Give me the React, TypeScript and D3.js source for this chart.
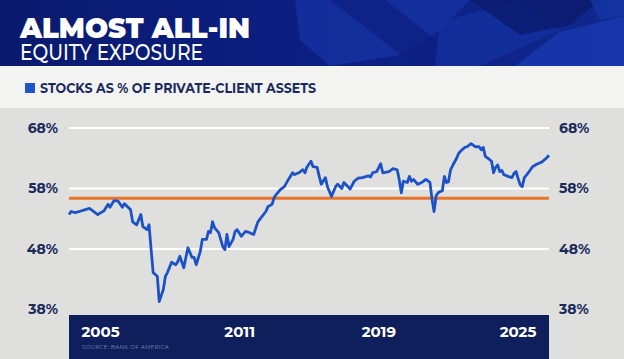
import { useEffect, useRef } from 'react'
import * as d3 from 'd3'

// stocks as % of private-client assets (monthly points)
const months = [
    '2005-07', '2005-08', '2005-10', '2005-12', '2006-03', '2006-05', '2006-09', '2006-12',
    '2007-02', '2007-03', '2007-05', '2007-07', '2007-09', '2007-10', '2008-01', '2008-02',
    '2008-04', '2008-06', '2008-07', '2008-09', '2008-10', '2008-11', '2008-12', '2009-02',
    '2009-03', '2009-05', '2009-06', '2009-07', '2009-09', '2009-11', '2009-12', '2010-01',
    '2010-03', '2010-04', '2010-05', '2010-07', '2010-08', '2010-09', '2010-11', '2010-12',
    '2011-02', '2011-03', '2011-04', '2011-05', '2011-06', '2011-08', '2011-10', '2011-11',
    '2011-12', '2012-01', '2012-03', '2012-04', '2012-05', '2012-07', '2012-09', '2012-11',
    '2013-01', '2013-03', '2013-04', '2013-07', '2013-08', '2013-10', '2013-11', '2013-12',
    '2014-02', '2014-04', '2014-06', '2014-08', '2014-09', '2014-11', '2015-01', '2015-02',
    '2015-03', '2015-05', '2015-06', '2015-08', '2015-09', '2015-10', '2015-12', '2016-01',
    '2016-03', '2016-05', '2016-06', '2016-08', '2016-09', '2016-11', '2016-12', '2017-02',
    '2017-04', '2017-06', '2017-09', '2017-10', '2017-11', '2018-01', '2018-03', '2018-04',
    '2018-07', '2018-09', '2018-11', '2018-12', '2019-01', '2019-02', '2019-04', '2019-05',
    '2019-06', '2019-07', '2019-09', '2019-11', '2020-01', '2020-03', '2020-04', '2020-05',
    '2020-06', '2020-07', '2020-08', '2020-09', '2020-10', '2020-11', '2020-12', '2021-01',
    '2021-02', '2021-04', '2021-05', '2021-06', '2021-08', '2021-09', '2021-11', '2021-12',
    '2022-01', '2022-03', '2022-04', '2022-05', '2022-06', '2022-08', '2022-09', '2022-10',
    '2022-11', '2022-12', '2023-01', '2023-02', '2023-03', '2023-05', '2023-07', '2023-08',
    '2023-09', '2023-10', '2023-11', '2023-12', '2024-01', '2024-02', '2024-04', '2024-05',
    '2024-07', '2024-09', '2024-10', '2024-12', '2025-01'
]

const stockShare = [
    53.7, 54.2, 54.0, 54.2, 54.5, 54.7, 53.7, 54.3,
    55.4, 54.9, 56.0, 55.9, 54.9, 55.5, 54.5, 52.5,
    52.0, 53.7, 51.7, 51.2, 52.0, 47.9, 44.1, 43.5,
    39.3, 41.3, 43.5, 44.1, 45.8, 45.4, 45.9, 46.8,
    44.9, 46.6, 48.2, 46.6, 46.6, 45.4, 47.6, 49.6,
    49.6, 50.9, 50.7, 52.5, 51.5, 50.7, 48.4, 47.9,
    50.4, 48.4, 49.6, 50.9, 51.2, 50.1, 50.9, 50.7,
    50.4, 52.4, 52.9, 54.2, 55.0, 55.4, 56.5, 57.0,
    57.8, 58.3, 59.5, 60.6, 60.3, 60.6, 61.1, 60.6,
    61.5, 62.5, 61.6, 61.5, 60.0, 58.7, 59.8, 58.3,
    56.7, 58.3, 58.7, 58.0, 59.0, 58.3, 57.9, 59.2,
    59.7, 59.8, 60.1, 59.9, 60.6, 60.8, 62.1, 60.6,
    60.8, 61.3, 61.1, 59.5, 57.3, 59.2, 59.0, 60.0,
    59.2, 59.5, 58.7, 59.0, 59.5, 59.0, 56.2, 54.2,
    56.8, 57.3, 57.5, 57.6, 60.0, 59.0, 59.1, 61.1,
    61.8, 63.0, 63.8, 64.2, 64.8, 64.9, 65.4, 65.2,
    64.9, 64.9, 64.4, 64.8, 63.3, 62.8, 62.5, 60.6,
    61.5, 61.9, 60.8, 61.0, 60.3, 60.0, 59.8, 60.5,
    60.8, 59.6, 58.6, 58.3, 59.8, 60.2, 61.1, 61.6,
    62.0, 62.3, 62.5, 63.1, 63.5
]

const longRunAverage = 56.4
const yTicks = [38, 48, 58, 68]
const yearLabels = ['2005', '2011', '2019', '2025']

export default function App() {
    const ref = useRef<SVGSVGElement>(null)

    useEffect(() => {
        const width = 624, height = 359
        const plot = { left: 69, right: 549, top: 128, bottom: 309.5 }
        const navy = '#1b2a5c'
        const font = 'Montserrat, Inter, "Open Sans", sans-serif'

        const svg = d3.select(ref.current)
        svg.selectAll('*').remove()

        // backgrounds
        svg.append('rect').attr('width', width).attr('height', height).attr('fill', '#dfe0de')
        svg.append('rect').attr('y', 66).attr('width', width).attr('height', 42).attr('fill', '#f3f3f2')

        // header band
        const defs = svg.append('defs')
        const grad = defs.append('linearGradient').attr('id', 'hdr').attr('x1', 0).attr('x2', 1)
        grad.append('stop').attr('offset', '0%').attr('stop-color', '#0a1a6e')
        grad.append('stop').attr('offset', '50%').attr('stop-color', '#0c1f82')
        grad.append('stop').attr('offset', '100%').attr('stop-color', '#10288f')
        svg.append('rect').attr('width', width).attr('height', 66).attr('fill', 'url(#hdr)')

        // blocky backdrop pattern
        const shapes = [
            { pts: '295,0 470,0 440,30 400,55 330,66 300,40', c: '#1634a4' },
            { pts: '330,0 385,0 470,66 415,66', c: '#0d1f80' },
            { pts: '440,22 520,0 560,30 480,66 435,66', c: '#1431a0' },
            { pts: '470,0 600,0 570,25 520,35', c: '#0b1a6a' },
            { pts: '515,66 560,32 624,16 624,66', c: '#1a3bb2' },
            { pts: '590,0 624,0 624,16 600,20', c: '#1535a6' }
        ]
        svg.append('g').selectAll('polygon').data(shapes).join('polygon')
            .attr('points', d => d.pts).attr('fill', d => d.c).attr('opacity', 0.75)

        svg.append('text')
            .attr('x', 20).attr('y', 38)
            .attr('font-family', font)
            .attr('font-weight', 900).attr('font-size', 29)
            .attr('textLength', 230).attr('lengthAdjust', 'spacingAndGlyphs')
            .attr('fill', 'white')
            .text('ALMOST ALL-IN')

        svg.append('text')
            .attr('x', 20).attr('y', 60)
            .attr('font-family', font)
            .attr('font-weight', 500).attr('font-size', 22)
            .attr('textLength', 183).attr('lengthAdjust', 'spacingAndGlyphs')
            .attr('fill', 'white')
            .text('EQUITY EXPOSURE')

        // legend
        svg.append('rect').attr('x', 25).attr('y', 83).attr('width', 10).attr('height', 10).attr('fill', '#1f55c8')
        svg.append('text')
            .attr('x', 40).attr('y', 93)
            .attr('font-family', font)
            .attr('font-weight', 700).attr('font-size', 14)
            .attr('textLength', 276).attr('lengthAdjust', 'spacingAndGlyphs')
            .attr('fill', navy)
            .text('STOCKS AS % OF PRIVATE-CLIENT ASSETS')

        // scales
        const parse = d3.timeParse('%Y-%m')
        const dates = months.map(m => parse(m) as Date)
        const x = d3.scaleTime()
            .domain([dates[0], dates[dates.length - 1]])
            .range([plot.left, plot.right])
        const y = d3.scaleLinear().domain([38, 68]).range([plot.bottom, plot.top])

        // gridlines
        svg.append('g').selectAll('line').data(yTicks.filter(t => t > 38)).join('line')
            .attr('x1', plot.left).attr('x2', plot.right)
            .attr('y1', d => y(d)).attr('y2', d => y(d))
            .attr('stroke', 'white').attr('stroke-width', 2)

        // y axes on both sides
        const fmt = (d: d3.NumberValue) => `${d}%`
        const styleAxis = (g: d3.Selection<SVGGElement, unknown, null, undefined>) => {
            g.select('.domain').remove()
            g.selectAll('text')
                .attr('font-family', font)
                .attr('font-weight', 700).attr('font-size', 14)
                .attr('fill', navy)
        }
        svg.append('g')
            .attr('transform', 'translate(62,0)')
            .call(d3.axisLeft(y).tickValues(yTicks).tickFormat(fmt).tickSize(0).tickPadding(4))
            .call(styleAxis)
        svg.append('g')
            .attr('transform', 'translate(555,0)')
            .call(d3.axisRight(y).tickValues(yTicks).tickFormat(fmt).tickSize(0).tickPadding(4))
            .call(styleAxis)

        // bottom band with year labels
        svg.append('rect')
            .attr('x', plot.left).attr('y', 315)
            .attr('width', plot.right - plot.left).attr('height', height - 315)
            .attr('fill', '#0e1f5b')

        const xLabels = d3.scalePoint().domain(yearLabels).range([100, 517.5])
        const xAxisG = svg.append('g')
            .attr('transform', 'translate(0,326)')
            .call(d3.axisBottom(xLabels).tickSize(0).tickPadding(0))
        xAxisG.select('.domain').remove()
        xAxisG.selectAll('text')
            .attr('font-family', font)
            .attr('font-weight', 700).attr('font-size', 15)
            .attr('fill', 'white')

        svg.append('text')
            .attr('x', 82).attr('y', 349)
            .attr('font-family', font)
            .attr('font-size', 5.5).attr('letter-spacing', 0.3)
            .attr('fill', '#8391bb')
            .text('SOURCE: BANK OF AMERICA')

        // long run average
        svg.append('line')
            .attr('x1', plot.left).attr('x2', plot.right)
            .attr('y1', y(longRunAverage)).attr('y2', y(longRunAverage))
            .attr('stroke', '#e8742c').attr('stroke-width', 3)

        // series
        const line = d3.line<number>()
            .x((_, i) => x(dates[i]))
            .y(d => y(d))
            .curve(d3.curveLinear)

        svg.append('path')
            .datum(stockShare)
            .attr('fill', 'none')
            .attr('stroke', '#1c52c6')
            .attr('stroke-width', 2.8)
            .attr('stroke-linejoin', 'round')
            .attr('d', line)
    }, [])

    return (
        <svg ref={ref} width={624} height={359}
            style={{ position: 'absolute', left: 0, top: 0, display: 'block' }} />
    )
}
